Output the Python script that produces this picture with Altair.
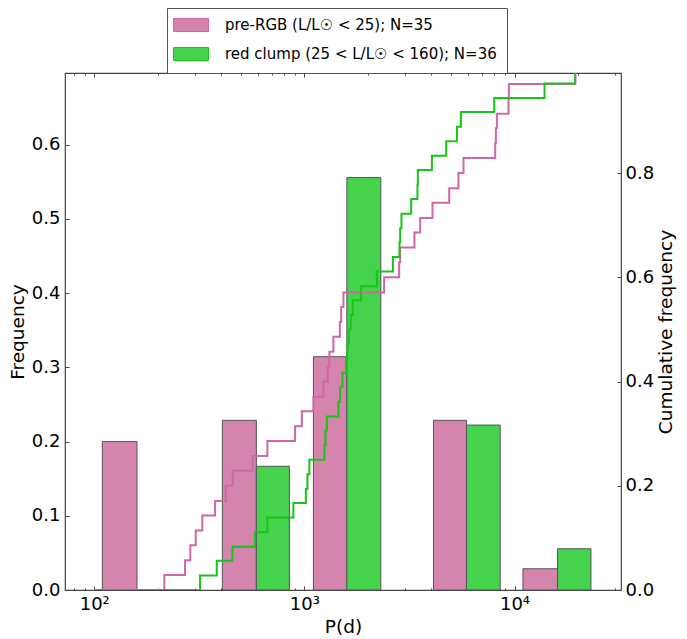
import altair as alt
import pandas as pd

# ---------------- data ----------------
series_names = ["pre-RGB (L/L☉ < 25); N=35",
                "red clump (25 < L/L☉ < 160); N=36"]
bar_fill = ["#d584ad", "#45d24d"]
line_colors = ["#d066a6", "#19c419"]

# histogram bars: left edge, right edge (period, d), frequency
pink_left = [109.2, 406.9, 1104, 4115, 10965]
pink_right = [159.7, 590.7, 1592, 5907, 16030]
pink_freq = [0.200, 0.2286, 0.3143, 0.2286, 0.0286]
green_left = [590.7, 1592, 5907, 16030]
green_right = [848.3, 2311, 8549, 23110]
green_freq = [0.1667, 0.5556, 0.2222, 0.0556]

# cumulative step curves: period where each step happens, level after the step
pink_P = [100, 215.4, 270.4, 286.5, 304.0, 326.8, 375.7, 422.5, 456.1, 568.0, 666.4,
          903.0, 971.9, 1104, 1232, 1292, 1315, 1374, 1475, 1496, 1534, 2396, 2825,
          2856, 3340, 3556, 4070, 4887, 5412, 5718, 8091, 8153, 8244, 9363, 9404, 19450]
pink_cum = [0.0, 0.029, 0.057, 0.086, 0.114, 0.143, 0.171, 0.200, 0.229, 0.257, 0.286,
            0.314, 0.343, 0.371, 0.400, 0.429, 0.457, 0.486, 0.514, 0.543, 0.571, 0.600,
            0.629, 0.657, 0.686, 0.714, 0.743, 0.771, 0.800, 0.829, 0.857, 0.886, 0.914,
            0.943, 0.971, 1.000]
green_P = [100, 318.7, 382.7, 454.2, 582.5, 666.4, 886.4, 1016, 1034, 1056, 1245, 1259,
           1279, 1452, 1479, 1517, 1580, 1603, 1627, 1663, 1700, 1862, 2212, 2636, 2834,
           2856, 2897, 3222, 3452, 3467, 4044, 4730, 5318, 5556, 8003, 13895, 19450]
green_cum = [0.0, 0.028, 0.056, 0.083, 0.111, 0.139, 0.167, 0.194, 0.222, 0.250, 0.278,
             0.306, 0.333, 0.361, 0.389, 0.417, 0.444, 0.472, 0.500, 0.528, 0.556, 0.583,
             0.611, 0.639, 0.667, 0.694, 0.722, 0.750, 0.778, 0.806, 0.833, 0.861, 0.889,
             0.917, 0.944, 0.972, 1.000]

x_ticks = [80, 90, 100, 200, 300, 400, 500, 600, 700, 800, 900, 1000, 2000, 3000, 4000,
           5000, 6000, 7000, 8000, 9000, 10000, 20000, 30000]
y_left_ticks = [0.0, 0.1, 0.2, 0.3, 0.4, 0.5, 0.6]
y_right_ticks = [0.0, 0.2, 0.4, 0.6, 0.8]

# ---------------- tables ----------------
bars_df = pd.DataFrame({
    "series": [series_names[0]] * len(pink_left) + [series_names[1]] * len(green_left),
    "x0": pink_left + green_left,
    "x1": pink_right + green_right,
    "freq": pink_freq + green_freq,
})
lines_df = pd.DataFrame({
    "series": [series_names[0]] * len(pink_P) + [series_names[1]] * len(green_P),
    "P": pink_P + green_P,
    "cum": pink_cum + green_cum,
    "idx": list(range(len(pink_P))) + list(range(len(green_P))),
})

FONT = "DejaVu Sans"
AX = "#444444"
xscale = alt.Scale(type="log", domain=[72.55, 32120], nice=False)
minor_test = "indexof([100, 1000, 10000], datum.value) < 0"
tick_dash = {"condition": {"test": minor_test, "value": [0, 2, 2]}, "value": [4, 0]}
label_expr = ("datum.value == 100 ? '10²' : datum.value == 1000 ? '10³' : "
              "datum.value == 10000 ? '10⁴' : ''")

x_axis_bottom = alt.Axis(orient="bottom", values=x_ticks, offset=-4, tickSize=4,
                         domain=False, grid=False, tickColor=AX, tickDash=tick_dash,
                         labelExpr=label_expr, labelOverlap=False, labelFlush=False,
                         labelPadding=5, title="P(d)", titlePadding=4)
x_axis_top = alt.Axis(orient="top", values=x_ticks, offset=-4, tickSize=4,
                      domain=False, grid=False, tickColor=AX, tickDash=tick_dash,
                      labels=False, title=None)
y_axis_left = alt.Axis(orient="left", values=y_left_ticks, format=".1f", offset=-4,
                       tickSize=4, domain=False, grid=False, tickColor=AX,
                       labelPadding=5, title="Frequency", titlePadding=4)
y_axis_right = alt.Axis(orient="right", values=y_right_ticks, format=".1f", offset=-4,
                        tickSize=4, domain=False, grid=False, tickColor=AX,
                        labelPadding=4, title="Cumulative frequency", titlePadding=22,
                        titleAngle=270)

legend = alt.Legend(title=None, orient="none", legendX=102, legendY=-65,
                    direction="vertical", strokeColor="#555555", fillColor="white",
                    padding=9.5, rowPadding=10, labelFont=FONT, labelFontSize=15,
                    labelColor="black", labelLimit=600, labelOffset=33.5,
                    symbolType="M-1.5,-0.93H3.5V0.93H-1.5Z", symbolSize=196,
                    symbolStrokeColor="#555555", symbolStrokeWidth=1, symbolOpacity=1)

bars = alt.Chart(bars_df).mark_rect(stroke="#555555", strokeWidth=1).encode(
    x=alt.X("x0:Q", scale=xscale, axis=x_axis_bottom),
    x2="x1:Q",
    y=alt.Y("freq:Q", scale=alt.Scale(domain=[0, 0.6965], nice=False, zero=True),
            axis=y_axis_left),
    y2=alt.datum(0),
    fill=alt.Fill("series:N", scale=alt.Scale(domain=series_names, range=bar_fill),
                  legend=legend),
)

lines = alt.Chart(lines_df).mark_line(interpolate="step-after", strokeWidth=2,
                                      clip=True).encode(
    x=alt.X("P:Q", scale=xscale, axis=x_axis_top),
    y=alt.Y("cum:Q", scale=alt.Scale(domain=[0, 0.992], nice=False), axis=y_axis_right),
    stroke=alt.Stroke("series:N", scale=alt.Scale(domain=series_names, range=line_colors),
                      legend=None),
    order="idx:Q",
)

chart = alt.layer(bars, lines).resolve_scale(y="independent").properties(
    width=556, height=517,
    autosize=alt.AutoSizeParams(type="none"),
    padding={"left": 65, "top": 73, "right": 66, "bottom": 49},
).configure_view(
    stroke=AX, strokeWidth=1.2
).configure_axis(
    labelFont=FONT, labelFontSize=18, labelColor="black",
    titleFont=FONT, titleFontSize=18.5, titleFontWeight="normal", titleColor="black",
)

chart.save("out.html", embed_options={"renderer": "svg", "actions": False})
